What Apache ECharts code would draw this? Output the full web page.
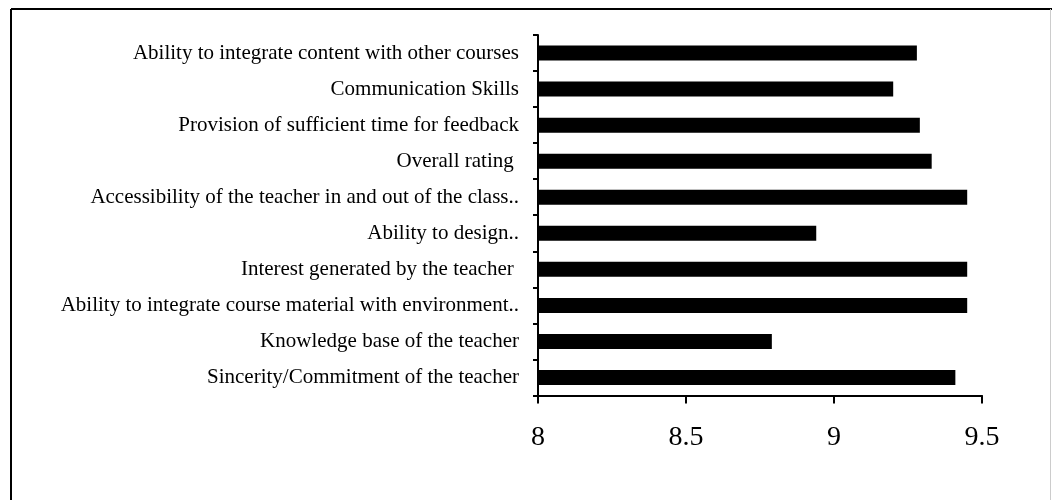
<!DOCTYPE html>
<html>
<head>
<meta charset="utf-8">
<script src="https://cdn.jsdelivr.net/npm/echarts@6/dist/echarts.min.js"></script>
<style>
html,body{margin:0;padding:0;background:#fff;}
#chart{width:1052px;height:500px;}
</style>
</head>
<body>
<div id="chart"></div>
<script>
// Categories listed bottom to top (as drawn by a category y axis)
var categories = [
  "Sincerity/Commitment of the teacher",
  "Knowledge base of the teacher",
  "Ability to integrate course material with environment..",
  "Interest generated by the teacher ",
  "Ability to design..",
  "Accessibility of the teacher in and out of the class..",
  "Overall rating ",
  "Provision of sufficient time for feedback",
  "Communication Skills",
  "Ability to integrate content with other courses"
];
var scores = [9.41, 8.79, 9.45, 9.45, 8.94, 9.45, 9.33, 9.29, 9.20, 9.28];
var xTicks = [8, 8.5, 9, 9.5];

var chart = echarts.init(document.getElementById('chart'), null, {renderer: 'canvas'});
var font = '"Liberation Serif", "Times New Roman", serif';
chart.setOption({
  animation: false,
  backgroundColor: '#fff',
  grid: {left: 538, right: 70, top: 35, bottom: 104.5, containLabel: false},
  xAxis: {
    type: 'value',
    min: xTicks[0],
    max: xTicks[xTicks.length - 1],
    interval: 0.5,
    axisLine: {show: true, lineStyle: {color: '#000', width: 2}},
    axisTick: {show: true, length: 8, lineStyle: {color: '#000', width: 2}},
    splitLine: {show: false},
    axisLabel: {
      color: '#000', fontFamily: font, fontSize: 28, margin: 28,
      formatter: function (v) { return String(v); }
    }
  },
  yAxis: {
    type: 'category',
    data: categories,
    axisLine: {show: true, lineStyle: {color: '#000', width: 2}},
    axisTick: {show: true, length: 5, lineStyle: {color: '#000', width: 2}},
    axisLabel: {color: '#000', fontFamily: font, fontSize: 21, margin: 19}
  },
  series: [{
    type: 'bar',
    data: scores,
    barWidth: 15,
    itemStyle: {color: '#000'}
  }],
  graphic: [
    {type: 'line', shape: {x1: 11, y1: 9, x2: 1052, y2: 9}, style: {stroke: '#000', lineWidth: 2}},
    {type: 'line', shape: {x1: 11, y1: 9, x2: 11, y2: 500}, style: {stroke: '#000', lineWidth: 2}},
    {type: 'line', shape: {x1: 1050.5, y1: 9, x2: 1050.5, y2: 500}, style: {stroke: '#ccc', lineWidth: 1}}
  ]
});
</script>
</body>
</html>
